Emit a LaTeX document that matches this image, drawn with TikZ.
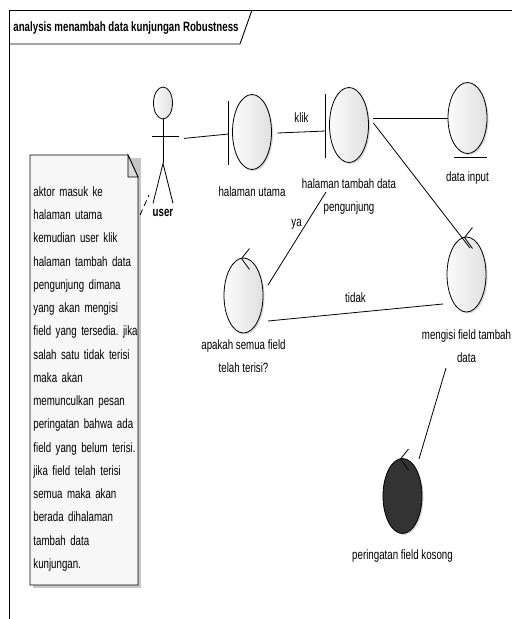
\documentclass[tikz,border=0pt]{standalone}
\usepackage{fontspec}
\setmainfont{Liberation Sans}[FakeStretch=0.72]
\usepackage{xcolor}
\usetikzlibrary{positioning,shapes.geometric,shadows,calc}

% control mark on top of an object
\newcommand{\ctrlmark}[1]{%
  \draw ($(#1.center)+(6,-47)$) -- ($(#1.center)+(-2,-37)$) -- ($(#1.center)+(6,-26)$);}
\newcommand{\notefont}{\fontsize{13.5}{23.25}\selectfont\spaceskip=2.4pt plus 1pt\relax}

\begin{document}
\frenchspacing
\begin{tikzpicture}[x=1pt, y=-1pt, line width=0.8pt,
    font=\fontsize{13.5}{23}\selectfont]
        \tikzset{obj/.style={ellipse, draw, inner sep=0, minimum width=39pt, minimum height=75pt,
            left color=gray!3, right color=gray!24,
            drop shadow={shadow xshift=1.5pt, shadow yshift=-1.5pt, fill=gray!60, opacity=0.5}}}
        \tikzset{darkobj/.style={ellipse, draw, inner sep=0, minimum width=39pt, minimum height=75pt,
            fill=black!80,
            drop shadow={shadow xshift=1.5pt, shadow yshift=-1.5pt, fill=gray!60, opacity=0.5}}}
        \tikzset{lbl/.style={inner sep=0, align=center}}
        \tikzset{edgelbl/.style={inner sep=0}}
        \tikzset{boldlbl/.style={font=\fontsize{13.5}{23}\selectfont\bfseries, inner sep=0}}
        \useasboundingbox (0,0) rectangle (512,619);

        % frame and title
        \draw[line width=0.9pt] (512,10) -- (9,10) -- (9,619);
        \draw[line width=0.9pt] (9,44) -- (240,44) -- (252,10);
        \node[boldlbl, anchor=base west] (title) at (13,31)
            {analysis menambah data kunjungan Robustness};

        % actor
        \node[ellipse, draw, inner sep=0, minimum width=19pt, minimum height=32pt,
            left color=gray!3, right color=gray!24] (userhead) at (163,103) {};
        \draw (userhead.south) -- ++(0,44) coordinate (userhip);
        \draw ($(userhead.south)+(-11,17)$) -- ++(27,0);
        \draw ($(userhip)+(-10,40)$) -- (userhip) -- ($(userhip)+(10,40)$);
        \node[boldlbl, anchor=base] (userlbl) at (163,216.5) {user};

        % objects
        \node[obj] (utama) at (252,132) {};
        \node[obj] (tambah) at (349,125) {};
        \node[obj, minimum height=71pt] (input) at (467.5,118) {};
        \node[obj] (apakah) at (243.5,295.5) {};
        \node[obj] (mengisi) at (466.5,274.5) {};
        \node[darkobj] (peringatan) at (402.5,496) {};

        % boundary bars, entity line, control marks
        \coordinate (utamabar) at ($(utama.west)+(-3.5,0)$);
        \coordinate (tambahbar) at ($(tambah.west)+(-3.5,0)$);
        \draw ($(utamabar)+(0,-31)$) -- ($(utamabar)+(0,33)$);
        \draw ($(tambahbar)+(0,-31)$) -- ($(tambahbar)+(0,33)$);
        \draw ($(input.south)+(-13.5,3)$) -- ($(input.south)+(19.5,3)$);
        \ctrlmark{apakah}
        \ctrlmark{mengisi}
        \ctrlmark{peringatan}

        % labels
        \node[lbl, below=16.3pt of utama] (utamalbl) {halaman utama};
        \node[lbl, below=15.3pt of tambah] (tambahlbl) {halaman tambah data\\pengunjung};
        \node[lbl, below=17.3pt of input] (inputlbl) {data input};
        \node[lbl, below=5.8pt of apakah] (apakahlbl) {apakah semua field\\telah terisi?};
        \node[lbl, below=16.8pt of mengisi] (mengisilbl) {mengisi field tambah\\data};
        \node[lbl, below=15.3pt of peringatan] (peringatanlbl) {peringatan field kosong};

        % note
        \fill[gray!45] (33,158) -- (141,158) -- (141,588) -- (33,588) -- cycle;
        \filldraw[fill=gray!6] (30,155) -- (128,155) -- (138,177) -- (138,585) -- (30,585) -- cycle;
        \filldraw[fill=gray!30] (128,155) -- (128,177) -- (138,177) -- cycle;
        \node[anchor=north west, inner sep=0, text width=125pt, align=left,
            font=\notefont] (note) at (33,186.3)
            {aktor masuk ke\\halaman utama\\kemudian user klik\\halaman tambah data\\pengunjung dimana\\yang akan mengisi\\field yang tersedia. jika\\salah satu tidak terisi\\maka akan\\memunculkan pesan\\peringatan bahwa ada\\field yang belum terisi.\\jika field telah terisi\\semua maka akan\\berada dihalaman\\tambah data\\kunjungan.};
        \coordinate (noteanchor) at (140,215);
        \coordinate (useranchor) at (149,195);
        \draw[dash pattern=on 6pt off 4pt] (noteanchor) -- (useranchor);

        % connectors
        \draw ($(userhead.south)+(21,19)$) -- ($(utamabar)+(0,2)$);
        \draw ($(utama.east)+(5.5,1)$) -- ($(tambahbar)+(0,6)$)
            node[edgelbl, midway, above=9.2pt] {klik};
        \draw ([xshift=4.5pt]tambah.east |- input.west) -- (input.west);
        \draw ($(tambah.east)+(4.5,-2)$) -- ($(mengisi.center)+(3.5,-26.5)$);
        \draw ($(apakah.center)+(24.5,-10.5)$) -- ($(tambah.center)+(-23,67)$)
            node[edgelbl, pos=0.656, left=3.9pt] {ya};
        \draw ($(apakah.center)+(24.5,25.5)$) -- ($(mengisi.center)+(-23.5,29.5)$)
            node[edgelbl, midway, above=9.7pt] {tidak};
        \draw ($(mengisi.center)+(-20.5,93.5)$) -- ($(peringatan.center)+(16.5,-37)$);
    \end{tikzpicture}
\end{document}
